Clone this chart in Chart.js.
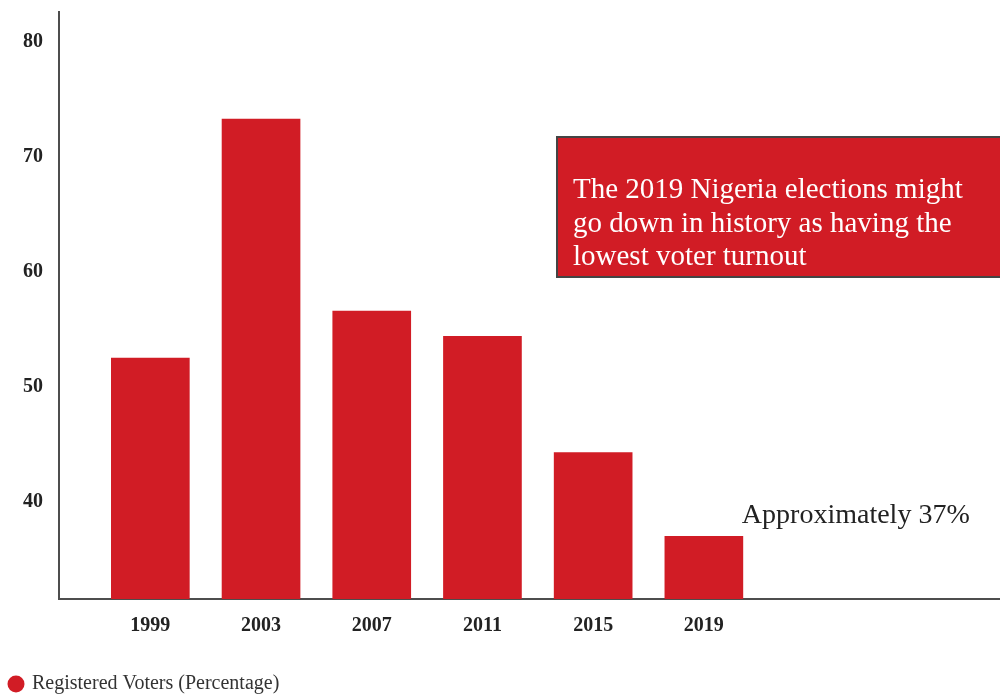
<!DOCTYPE html>
<html>
<head>
  <title>Nigeria Voter Turnout</title>
  <style>
    html, body { margin: 0; padding: 0; background: #fff; }
    .chart { position: relative; width: 1000px; height: 698px; }
  </style>
  <script src="https://cdn.jsdelivr.net/npm/chart.js"></script>
</head>
<body>
  <div class="chart"><canvas id="turnoutChart"></canvas></div>
  <script>
    // election years and turnout (% of registered voters)
    const years = [1999, 2003, 2007, 2011, 2015, 2019];
    const turnout = [52.5, 73.3, 56.6, 54.4, 44.3, 37];
    const yTicks = [40, 50, 60, 70, 80];
    const seriesLabel = 'Registered Voters (Percentage)';
    const noteLines = [
      'The 2019 Nigeria elections might',
      'go down in history as having the',
      'lowest voter turnout'
    ];
    const lastLabel = 'Approximately 37%';

    const red = '#d11c25';
    const axisColor = '#4d4d4d';
    const serif = '"Liberation Serif", "DejaVu Serif", serif';

    // red call-out box and the label next to the 2019 bar
    const notes = {
      id: 'notes',
      afterDatasetsDraw(chart) {
        const ctx = chart.ctx;
        ctx.save();
        ctx.fillStyle = red;
        ctx.fillRect(557, 137, 450, 140);
        ctx.strokeStyle = '#444';
        ctx.lineWidth = 2;
        ctx.strokeRect(557, 137, 450, 140);

        ctx.fillStyle = '#fff';
        ctx.font = '29px ' + serif;
        ctx.textBaseline = 'alphabetic';
        noteLines.forEach((line, i) => ctx.fillText(line, 573, 198 + i * 33.5));

        const bar = chart.getDatasetMeta(0).data[years.length - 1];
        ctx.fillStyle = '#222';
        ctx.font = '28px ' + serif;
        ctx.fillText(lastLabel, bar.x + bar.width / 2 - 1, bar.y - 13);
        ctx.restore();
      }
    };

    new Chart(document.getElementById('turnoutChart'), {
      type: 'bar',
      data: {
        datasets: [{
          label: seriesLabel,
          data: years.map((yr, i) => ({ x: yr, y: turnout[i] })),
          backgroundColor: red,
          borderWidth: 0,
          barThickness: 78
        }]
      },
      options: {
        responsive: true,
        maintainAspectRatio: false,
        animation: false,
        layout: { padding: { top: 12, right: 0, left: 0, bottom: -6 } },
        plugins: {
          tooltip: { enabled: false },
          legend: {
            position: 'bottom',
            align: 'start',
            labels: {
              usePointStyle: true,
              pointStyle: 'circle',
              boxWidth: 12,
              boxHeight: 12,
              padding: 10,
              color: '#333',
              font: { family: serif, size: 20 }
            }
          }
        },
        scales: {
          x: {
            type: 'linear',
            offset: false,
            min: 1995.7,
            max: 2029.7,
            grid: { display: false, drawTicks: false, offset: false },
            border: { display: true, color: axisColor, width: 2 },
            afterBuildTicks: scale => { scale.ticks = years.map(v => ({ value: v })); },
            afterFit: scale => { scale.height = 65; },
            ticks: {
              autoSkip: false,
              maxRotation: 0,
              padding: 15,
              color: '#222',
              font: { family: serif, size: 20, weight: 'bold' },
              callback: v => String(v)
            }
          },
          y: {
            min: 31.56,
            max: 82.6,
            grid: { display: false, drawTicks: false },
            border: { display: true, color: axisColor, width: 2 },
            afterBuildTicks: scale => { scale.ticks = yTicks.map(v => ({ value: v })); },
            afterFit: scale => {
              scale.width = 59;
              scale.paddingTop = 0;
              scale.paddingBottom = 0;
            },
            ticks: {
              padding: 16,
              color: '#222',
              font: { family: serif, size: 20, weight: 'bold' }
            }
          }
        }
      },
      plugins: [notes]
    });
  </script>
</body>
</html>
